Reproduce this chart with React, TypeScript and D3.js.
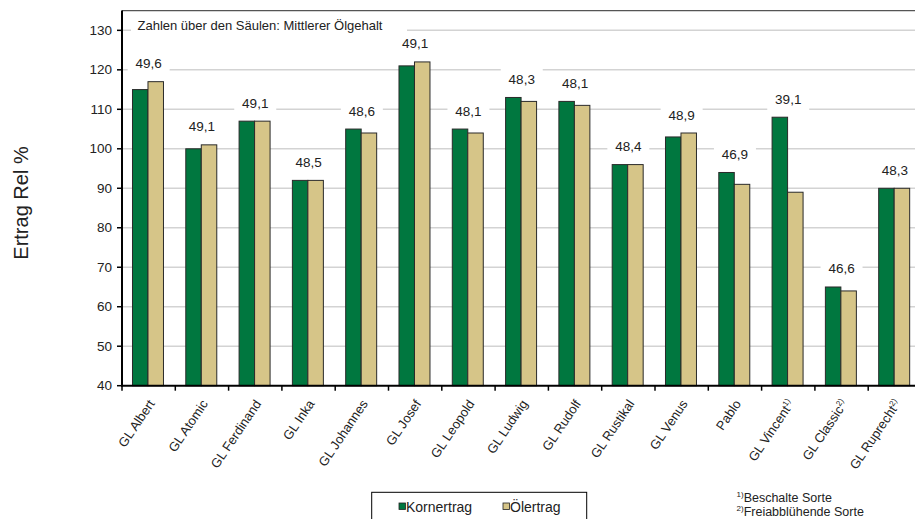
import React from 'react';
import * as d3 from 'd3';

const categories = ['GL Albert', 'GL Atomic', 'GL Ferdinand', 'GL Inka', 'GL Johannes', 'GL Josef', 'GL Leopold', 'GL Ludwig', 'GL Rudolf', 'GL Rustikal', 'GL Venus', 'Pablo', 'GL Vincent', 'GL Classic', 'GL Ruprecht'];
const footnoteMarks = ['', '', '', '', '', '', '', '', '', '', '', '', '1)', '2)', '2)'];
const kornertrag = [115, 100, 107, 92, 105, 121, 105, 113, 112, 96, 103, 94, 108, 65, 90];
const oelertrag = [117, 101, 107, 92, 104, 122, 104, 112, 111, 96, 104, 91, 89, 64, 90];
const oelgehalt = ['49,6', '49,1', '49,1', '48,5', '48,6', '49,1', '48,1', '48,3', '48,1', '48,4', '48,9', '46,9', '39,1', '46,6', '48,3'];
const yTicks = [40, 50, 60, 70, 80, 90, 100, 110, 120, 130];
const seriesNames = ['Kornertrag', 'Ölertrag'];
const seriesColors = ['#00773F', '#D6C588'];
const footnotes = [{ mark: '1)', text: 'Beschalte Sorte' }, { mark: '2)', text: 'Freiabblühende Sorte' }];

const FONT = "Arial, 'Liberation Sans', sans-serif";

export default function App() {
  const W = 915, H = 519;
  const left = 122, right = 915, bottom = 385.7, top = 10.6;
  const x = d3.scaleBand<string>().domain(categories).range([left, left + 15 * 53.3]).padding(0);
  const sub = d3.scaleBand<string>().domain(seriesNames).range([0, x.bandwidth()]).paddingInner(0).paddingOuter(0.72).align(0.47);
  const y = d3.scaleLinear().domain([40, 135]).range([bottom, top]);
  const series = [kornertrag, oelertrag];

  return (
    <svg width={W} height={H} style={{ position: 'absolute', left: 0, top: 0, background: '#fff' }} fontFamily={FONT}>
      <rect x={0} y={0} width={W} height={H} fill="#fff" />
      {yTicks.filter(t => t > 40).map(t => (
        <line key={'g' + t} x1={left} x2={right} y1={y(t)} y2={y(t)} stroke="#d3d3d3" strokeWidth={1.5} />
      ))}
      <line x1={left} x2={right} y1={top} y2={top} stroke="#555" strokeWidth={1.2} />
      <rect x={131} y={17} width={276} height={17} fill="#fff" />
      <text x={137.5} y={29.5} fontSize={13} fill="#222">Zahlen über den Säulen: Mittlerer Ölgehalt</text>
      {categories.map((c, i) => {
        const cx = (x(c) as number) + x.bandwidth() / 2;
        const cy = y(Math.max(kornertrag[i], oelertrag[i])) - 18;
        return (
          <g key={'l' + c}>
            <rect x={cx - 21} y={cy - 11} width={42} height={22} fill="#fff" />
            <text x={cx} y={cy} textAnchor="middle" dominantBaseline="central" fontSize={13.5} fill="#222">{oelgehalt[i]}</text>
          </g>
        );
      })}
      {categories.map((c, i) => (
        <g key={'b' + c}>
          {series.map((s, j) => (
            <rect key={j}
              x={(x(c) as number) + (sub(seriesNames[j]) as number)}
              y={y(s[i])}
              width={sub.bandwidth()}
              height={bottom - y(s[i])}
              fill={seriesColors[j]} stroke="#2a2a2a" strokeWidth={1} />
          ))}
        </g>
      ))}
      <line x1={left} x2={left} y1={top} y2={bottom + 1} stroke="#000" strokeWidth={2} />
      {yTicks.map(t => (
        <g key={'t' + t}>
          <line x1={left - 5} x2={left} y1={y(t)} y2={y(t)} stroke="#000" strokeWidth={1.5} />
          <text x={112} y={y(t)} textAnchor="end" dominantBaseline="central" fontSize={13.5} fill="#222">{t}</text>
        </g>
      ))}
      <line x1={left - 1} x2={right} y1={bottom} y2={bottom} stroke="#000" strokeWidth={2} />
      {categories.map((c) => (
        <line key={'xt' + c} x1={x(c) as number} x2={x(c) as number} y1={bottom} y2={bottom + 5} stroke="#000" strokeWidth={1.5} />
      ))}
      {categories.map((c, i) => {
        const cx = (x(c) as number) + x.bandwidth() / 2 + 6.5;
        return (
          <text key={'xl' + c} transform={`translate(${cx},${bottom + 18}) rotate(-56)`} textAnchor="end" fontSize={13} fill="#222">
            {c}
            {footnoteMarks[i] && <tspan fontSize={8} dy="-5">{footnoteMarks[i]}</tspan>}
          </text>
        );
      })}
      <text transform="translate(21,203) rotate(-90)" textAnchor="middle" dominantBaseline="central" fontSize={20} fill="#222">Ertrag Rel %</text>
      <rect x={371.7} y={492.3} width={215} height={40} fill="#fff" stroke="#000" strokeWidth={1} />
      {seriesNames.map((n, j) => {
        const lx = [399, 503][j];
        return (
          <g key={'lg' + n}>
            <rect x={lx} y={503} width={6.5} height={6.5} fill={seriesColors[j]} stroke="#222" strokeWidth={0.8} />
            <text x={lx + 7} y={506.5} dominantBaseline="central" fontSize={14} fill="#222">{n}</text>
          </g>
        );
      })}
      {footnotes.map((f, k) => (
        <text key={'f' + k} x={736.5} y={502 + k * 14} fontSize={12.5} fill="#222">
          <tspan fontSize={8} dy="-5">{f.mark}</tspan>
          <tspan dy="5">{f.text}</tspan>
        </text>
      ))}
    </svg>
  );
}
